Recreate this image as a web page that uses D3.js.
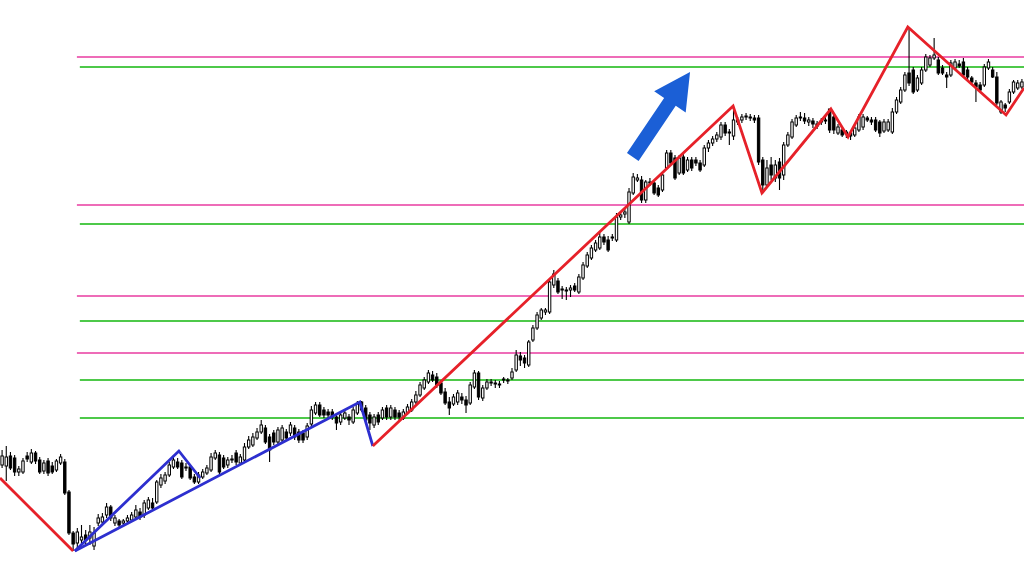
<!DOCTYPE html>
<html><head><meta charset="utf-8">
<script src="https://cdn.jsdelivr.net/npm/d3@7"></script>
<style>html,body{margin:0;padding:0;background:#fff;overflow:hidden}</style>
</head><body>
<svg id="chart" width="1024" height="569"></svg>
<script>
// ---- OHLC data (price units, one candle per bar) ----
const open = [135,134,144,142,128,128,144,138,147,140,129,139,134,130,137,138,108,67,
57,60,65,62,54,77,78,85,93,77,79,77,79,80,83,88,85,92,97,98,115,119,125,133,138,137,132,133,123,118,123,127,130,142,145,142,135,141,147,137,140,153,155,162,
168,172,163,167,158,160,168,167,172,168,167,163,176,187,195,190,188,188,183,178,182,183,178,187,198,192,185,175,185,182,192,183,190,187,182,187,190,198,205,212,218,225,223,217,208,198,
196,198,203,200,197,213,227,202,212,217,216,215,220,219,222,230,244,242,235,260,272,282,288,288,315,319,310,309,310,314,308,322,334,342,350,
352,363,360,362,360,383,386,378,407,420,420,400,417,417,412,410,432,447,442,427,443,430,440,440,437,435,452,457,461,463,475,467,464,478,480,483,482,482,
482,440,415,435,422,438,425,455,463,475,482,482,478,479,476,478,479,491,483,467,470,468,467,465,470,473,482,480,480,478,469,470,468,488,498,510,527,
530,510,517,530,535,542,540,532,525,525,532,536,538,530,522,517,515,515,532,530,523,488,495,498,508,512,513];
const close = [144,143,132,128,131,139,141,147,139,128,137,127,128,139,143,107,67,56,
68,63,60,68,67,82,83,93,82,82,75,79,82,85,90,83,97,100,92,118,122,125,135,140,133,123,133,122,118,125,128,132,143,147,128,133,140,140,138,143,153,160,163,168,
175,158,150,158,170,172,162,175,163,160,160,174,190,195,185,185,185,183,177,185,187,180,190,196,190,180,177,183,178,190,183,192,183,183,188,193,198,205,215,220,227,220,215,207,197,192,
203,207,200,195,215,227,203,212,218,218,217,216,221,220,228,245,240,237,258,272,285,290,290,318,326,308,311,310,312,310,323,335,345,352,357,
363,358,350,363,383,385,388,408,423,422,400,418,418,407,405,425,447,437,422,442,427,440,432,437,430,452,457,461,465,475,467,468,480,480,483,484,483,480,
438,415,432,425,435,422,455,465,478,482,483,479,480,476,474,479,480,470,470,473,465,466,464,472,483,483,480,478,470,467,478,478,488,500,510,525,517,
508,522,530,543,542,545,527,527,523,537,538,534,525,523,518,513,510,533,538,523,497,498,492,508,518,517,518];
const high = [150,154,148,145,134,142,148,151,149,143,140,142,138,141,146,141,110,69,
72,75,70,75,73,86,87,97,95,85,81,81,85,88,95,92,100,103,102,120,126,128,138,145,142,140,137,136,126,128,131,135,147,150,148,145,143,145,150,146,157,164,167,172,
180,175,166,170,173,175,171,178,175,171,170,177,194,198,198,193,191,191,186,188,190,186,193,199,199,195,188,186,188,193,195,195,193,190,191,196,201,209,218,223,230,229,227,220,212,203,
206,210,207,204,218,230,229,215,221,221,220,219,223,222,232,250,248,245,260,275,288,292,292,322,330,322,314,313,315,317,326,338,348,355,360,
367,366,364,366,387,388,392,412,427,426,424,420,422,420,415,428,450,450,445,445,446,443,443,443,440,455,460,464,468,478,478,471,494,483,486,487,486,485,
485,443,440,443,440,442,458,468,481,485,488,487,483,482,479,482,483,491,486,476,473,470,469,475,486,486,484,483,483,480,481,481,492,503,513,528,573,
533,525,533,546,545,562,543,535,528,540,541,540,542,533,524,520,518,536,541,533,528,500,497,511,520,520,521];
const low = [132,119,130,124,124,126,138,136,136,126,126,124,126,128,135,105,65,49,
52,55,55,55,50,74,76,82,79,74,72,74,76,78,81,80,82,90,89,96,112,116,123,131,131,121,129,120,116,116,121,125,128,140,126,131,132,137,135,135,138,151,153,160,
166,156,138,155,155,158,159,164,160,157,157,160,174,185,183,182,182,180,170,175,180,175,176,185,188,178,170,172,175,180,180,180,180,180,180,185,188,196,203,210,216,218,212,205,195,185,
194,195,196,187,195,211,200,199,210,214,212,212,217,216,220,228,234,232,233,258,270,280,285,286,312,306,301,300,303,308,306,320,332,340,348,
350,355,348,359,358,380,382,376,405,418,397,397,414,405,403,408,430,435,420,425,425,428,429,434,428,433,448,454,458,460,464,455,460,475,477,480,479,477,
435,408,412,420,418,410,420,453,461,473,479,476,474,472,471,475,476,467,466,465,463,462,460,463,468,470,478,475,468,463,467,468,466,486,496,508,514,
506,508,515,528,533,540,525,525,512,523,530,532,523,520,515,498,508,513,530,522,495,486,488,496,506,510,511];

// ---- zigzag pivots: [bar index, price] ----
const redLegA = [[-0.5,122],[17,49]];
const redLegB = [[88.7,154],[174.9,494],[181.8,407],[198.3,491],[202.4,463],[216.7,573],[240.2,485],[244.5,512]];
const blueUpper = [[17.4,49],[42.3,149],[47.4,122]];
const blueLower = [[17.4,49],[85.6,198],[88.7,154]];

// ---- horizontal levels (price) ----
const pinkLevels = [543,395,304,247];
const greenLevels = [533,376,279,220,182];
const pinkStart = 17.9, greenStart = 18.6;

// ---- arrow [bar index, price] ----
const arrowFrom = [150.9,443], arrowTo = [164.6,528];

const W = 1024, H = 569, N = open.length;
const svg = d3.select('#chart');
const x = d3.scaleLinear().domain([-0.5, N - 0.5]).range([0, W]);
const y = d3.scaleLinear().domain([31, 600]).range([H, 0]);

// levels
const lv = svg.append('g');
lv.selectAll('line.p').data(pinkLevels).join('line')
  .attr('x1', x(pinkStart)).attr('x2', W).attr('y1', d => y(d)).attr('y2', d => y(d))
  .attr('stroke', '#ee6cb8').attr('stroke-width', 2);
lv.selectAll('line.g').data(greenLevels).join('line')
  .attr('x1', x(greenStart)).attr('x2', W).attr('y1', d => y(d)).attr('y2', d => y(d))
  .attr('stroke', '#4ec94a').attr('stroke-width', 2);

// candles
const bars = d3.range(N).map(i => ({i, o: open[i], h: high[i], l: low[i], c: close[i]}));
const cg = svg.append('g');
cg.selectAll('line').data(bars).join('line')
  .attr('x1', d => x(d.i)).attr('x2', d => x(d.i))
  .attr('y1', d => y(d.h)).attr('y2', d => y(d.l))
  .attr('stroke', '#000').attr('stroke-width', 1.1);
const bw = 2.4;
cg.selectAll('rect').data(bars).join('rect')
  .attr('x', d => x(d.i) - bw / 2)
  .attr('width', bw)
  .attr('y', d => y(Math.max(d.o, d.c)))
  .attr('height', d => Math.max(1, Math.abs(y(d.o) - y(d.c))))
  .attr('fill', d => d.c >= d.o ? '#fff' : '#000')
  .attr('stroke', '#000').attr('stroke-width', 1);

// zigzags
const line = d3.line().x(d => x(d[0])).y(d => y(d[1]));
const zz = svg.append('g').attr('fill', 'none').attr('stroke-linejoin', 'miter');
zz.append('path').attr('d', line(blueUpper)).attr('stroke', '#2d2fcf').attr('stroke-width', 2.8);
zz.append('path').attr('d', line(blueLower)).attr('stroke', '#2d2fcf').attr('stroke-width', 2.8);
zz.append('path').attr('d', line(redLegA)).attr('stroke', '#e62129').attr('stroke-width', 2.8);
zz.append('path').attr('d', line(redLegB)).attr('stroke', '#e62129').attr('stroke-width', 2.8);

// arrow
const T = [x(arrowFrom[0]), y(arrowFrom[1])], P = [x(arrowTo[0]), y(arrowTo[1])];
const len = Math.hypot(P[0] - T[0], P[1] - T[1]);
const u = [(P[0] - T[0]) / len, (P[1] - T[1]) / len], n = [-u[1], u[0]];
const hw = 7, hh = 19, hl = 36;
const B = [P[0] - u[0] * hl, P[1] - u[1] * hl];
const pt = (b, k) => [b[0] + n[0] * k, b[1] + n[1] * k];
const poly = [pt(T, hw), pt(B, hw), pt(B, hh), P, pt(B, -hh), pt(B, -hw), pt(T, -hw)];
svg.append('polygon').attr('points', poly.map(p => p.join(',')).join(' ')).attr('fill', '#1b5fd6');
</script>
</body></html>
